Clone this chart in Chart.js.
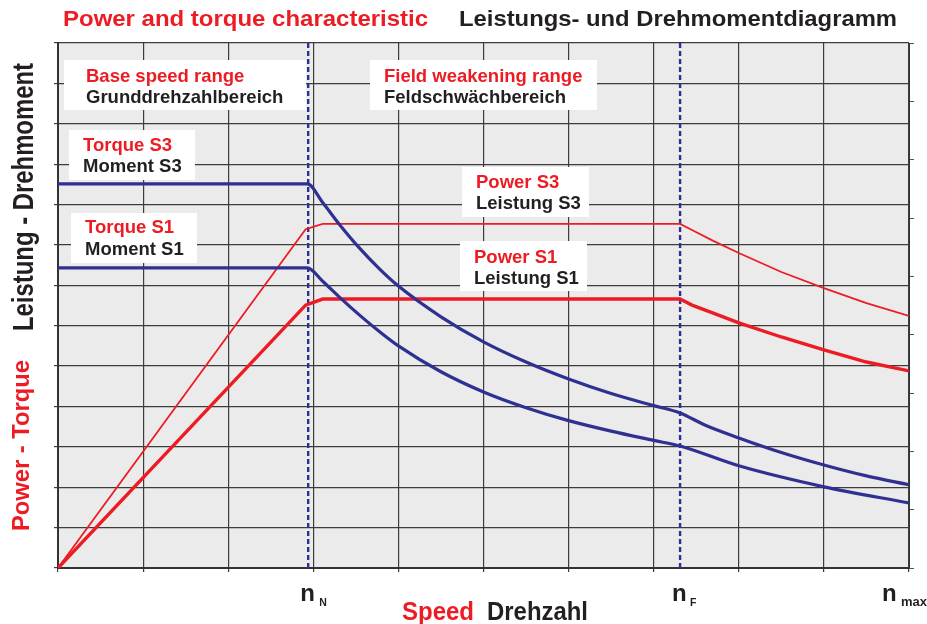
<!DOCTYPE html>
<html>
<head>
<meta charset="utf-8">
<script src="https://cdn.jsdelivr.net/npm/chart.js@4.4.1/dist/chart.umd.min.js"></script>
<style>
  html, body { margin: 0; padding: 0; background: #fff; }
  #wrap { width: 927px; height: 624px; }
</style>
</head>
<body>
<div id="wrap"><canvas id="chart" width="927" height="624"></canvas></div>
<script>
// speed in grid units (0 .. 10 = n max), output in grid units (0 .. 13)
const torqueS3Speed = [0, 2.93, 3.11, 3.31, 3.53, 3.78, 4.0, 4.5, 5.0, 5.5, 6.0, 6.5, 7.0, 7.31, 7.6, 8.0, 8.5, 9.0, 9.5, 10];
const torqueS3 = [9.51, 9.51, 9.05, 8.5, 7.95, 7.4, 6.98, 6.22, 5.6, 5.1, 4.68, 4.32, 4.02, 3.84, 3.54, 3.22, 2.86, 2.55, 2.28, 2.06];

const torqueS1Speed = [0, 2.93, 3.11, 3.31, 3.55, 3.78, 4.0, 4.5, 5.0, 5.5, 6.0, 6.5, 7.0, 7.31, 8.0, 9.0, 10];
const torqueS1 = [7.43, 7.43, 7.1, 6.7, 6.25, 5.85, 5.5, 4.86, 4.36, 3.97, 3.65, 3.39, 3.16, 3.02, 2.53, 2.01, 1.61];

const powerS3Speed = [0, 2.91, 3.11, 7.31, 7.45, 7.7, 8.0, 8.5, 9.0, 9.5, 10];
const powerS3 = [0, 8.39, 8.52, 8.52, 8.37, 8.10, 7.80, 7.33, 6.93, 6.56, 6.24];

const powerS1Speed = [0, 2.91, 3.11, 7.31, 7.45, 7.7, 8.0, 8.5, 9.0, 9.5, 10];
const powerS1 = [0, 6.51, 6.66, 6.66, 6.51, 6.31, 6.07, 5.72, 5.40, 5.10, 4.88];

// rated speed, field weakening speed, max speed
const speedMarks = [2.94, 7.31, 10];
const speedMarkNames = ['N', 'F', 'max'];

const RED = '#ed1c24';
const BLUE = '#2e3192';
const INK = '#231f20';
const FONT = '"Liberation Sans", Arial, sans-serif';

const pts = (xs, ys) => xs.map((x, i) => ({ x: x, y: ys[i] }));

function drawText(ctx, text, x, y, size, color, width, rotate) {
  ctx.save();
  ctx.font = 'bold ' + size + 'px ' + FONT;
  ctx.fillStyle = color;
  ctx.textAlign = 'left';
  ctx.textBaseline = 'alphabetic';
  const w = ctx.measureText(text).width;
  ctx.translate(x, y);
  if (rotate) ctx.rotate(-Math.PI / 2);
  if (width) ctx.scale(width / w, 1);
  ctx.fillText(text, 0, 0);
  ctx.restore();
}

// white label boxes: [left, top, width, height, textX, red line, black line, baseline1, baseline2]
const boxes = [
  [64, 60, 242, 50, 86, 'Base speed range', 'Grunddrehzahlbereich', 82, 103],
  [370, 60, 227, 50, 384, 'Field weakening range', 'Feldschwächbereich', 82, 103],
  [69, 130, 126, 50, 83, 'Torque S3', 'Moment S3', 151, 172],
  [71, 213, 126, 50, 85, 'Torque S1', 'Moment S1', 233, 255],
  [462, 167, 127, 50, 476, 'Power S3', 'Leistung S3', 188, 209],
  [460, 241, 127, 50, 474, 'Power S1', 'Leistung S1', 263, 284]
];

const background = {
  id: 'background',
  beforeDraw(chart) {
    const { ctx, chartArea: a } = chart;
    ctx.save();
    ctx.fillStyle = '#ebebeb';
    ctx.fillRect(a.left, a.top, a.right - a.left, a.bottom - a.top);
    ctx.restore();
  }
};

const labels = {
  id: 'labels',
  afterDraw(chart) {
    const ctx = chart.ctx;
    const xs = chart.scales.x;

    boxes.forEach(b => {
      ctx.fillStyle = '#fff';
      ctx.fillRect(b[0], b[1], b[2], b[3]);
      drawText(ctx, b[5], b[4], b[7], 18.5, RED);
      drawText(ctx, b[6], b[4], b[8], 18.5, INK);
    });

    // titles
    drawText(ctx, 'Power and torque characteristic', 63, 26, 22, RED, 365);
    drawText(ctx, 'Leistungs- und Drehmomentdiagramm', 459, 26, 22, INK, 438);

    // axis titles
    drawText(ctx, 'Power - Torque', 29, 531, 23.5, RED, 171, true);
    drawText(ctx, 'Leistung - Drehmoment', 33, 331, 29, INK, 268, true);
    drawText(ctx, 'Speed', 402, 620, 25, RED, 72);
    drawText(ctx, 'Drehzahl', 487, 620, 25, INK, 101);

    // n labels under the axis
    const nOff = [-8, -8, -27];
    const subOff = [11, 10, -8];
    speedMarks.forEach((v, i) => {
      const px = xs.getPixelForValue(v);
      drawText(ctx, 'n', px + nOff[i], 601, 24, INK);
      drawText(ctx, speedMarkNames[i], px + subOff[i], 606, i === 2 ? 13 : 10.5, INK);
    });
  }
};

const gridStyle = { color: '#3c3c3c', lineWidth: 1.2, tickLength: 4 };

new Chart(document.getElementById('chart'), {
  type: 'scatter',
  data: {
    datasets: [
      { label: 'Torque S3', data: pts(torqueS3Speed, torqueS3), borderColor: BLUE, borderWidth: 3.2, cubicInterpolationMode: 'monotone' },
      { label: 'Torque S1', data: pts(torqueS1Speed, torqueS1), borderColor: BLUE, borderWidth: 3.2, cubicInterpolationMode: 'monotone' },
      { label: 'Power S3', data: pts(powerS3Speed, powerS3), borderColor: RED, borderWidth: 1.8 },
      { label: 'Power S1', data: pts(powerS1Speed, powerS1), borderColor: RED, borderWidth: 3.4 },
      { label: 'n N', data: [{ x: speedMarks[0], y: 0 }, { x: speedMarks[0], y: 13 }], borderColor: BLUE, borderWidth: 2.4, borderDash: [5, 3] },
      { label: 'n F', data: [{ x: speedMarks[1], y: 0 }, { x: speedMarks[1], y: 13 }], borderColor: BLUE, borderWidth: 2.4, borderDash: [5, 3] }
    ]
  },
  options: {
    responsive: false,
    animation: false,
    showLine: true,
    elements: { point: { radius: 0 }, line: { tension: 0, borderCapStyle: 'butt' } },
    layout: { padding: { top: 43, left: 0, right: 0, bottom: 0 } },
    plugins: { legend: { display: false }, tooltip: { enabled: false }, title: { display: false } },
    scales: {
      x: {
        type: 'linear', min: 0, max: 10,
        ticks: { stepSize: 1, display: false },
        grid: gridStyle,
        border: { color: '#333', width: 2 },
        afterFit: s => { s.height = 56; }
      },
      y: {
        min: 0, max: 13,
        ticks: { stepSize: 1, display: false },
        grid: gridStyle,
        border: { color: '#333', width: 2 },
        afterFit: s => { s.width = 58; }
      },
      y2: {
        position: 'right', min: 0, max: 9,
        ticks: { stepSize: 1, display: false },
        grid: { drawOnChartArea: false, color: '#555', tickLength: 5 },
        border: { color: '#333', width: 1 },
        afterFit: s => { s.width = 18; }
      }
    }
  },
  plugins: [background, labels]
});
</script>
</body>
</html>
